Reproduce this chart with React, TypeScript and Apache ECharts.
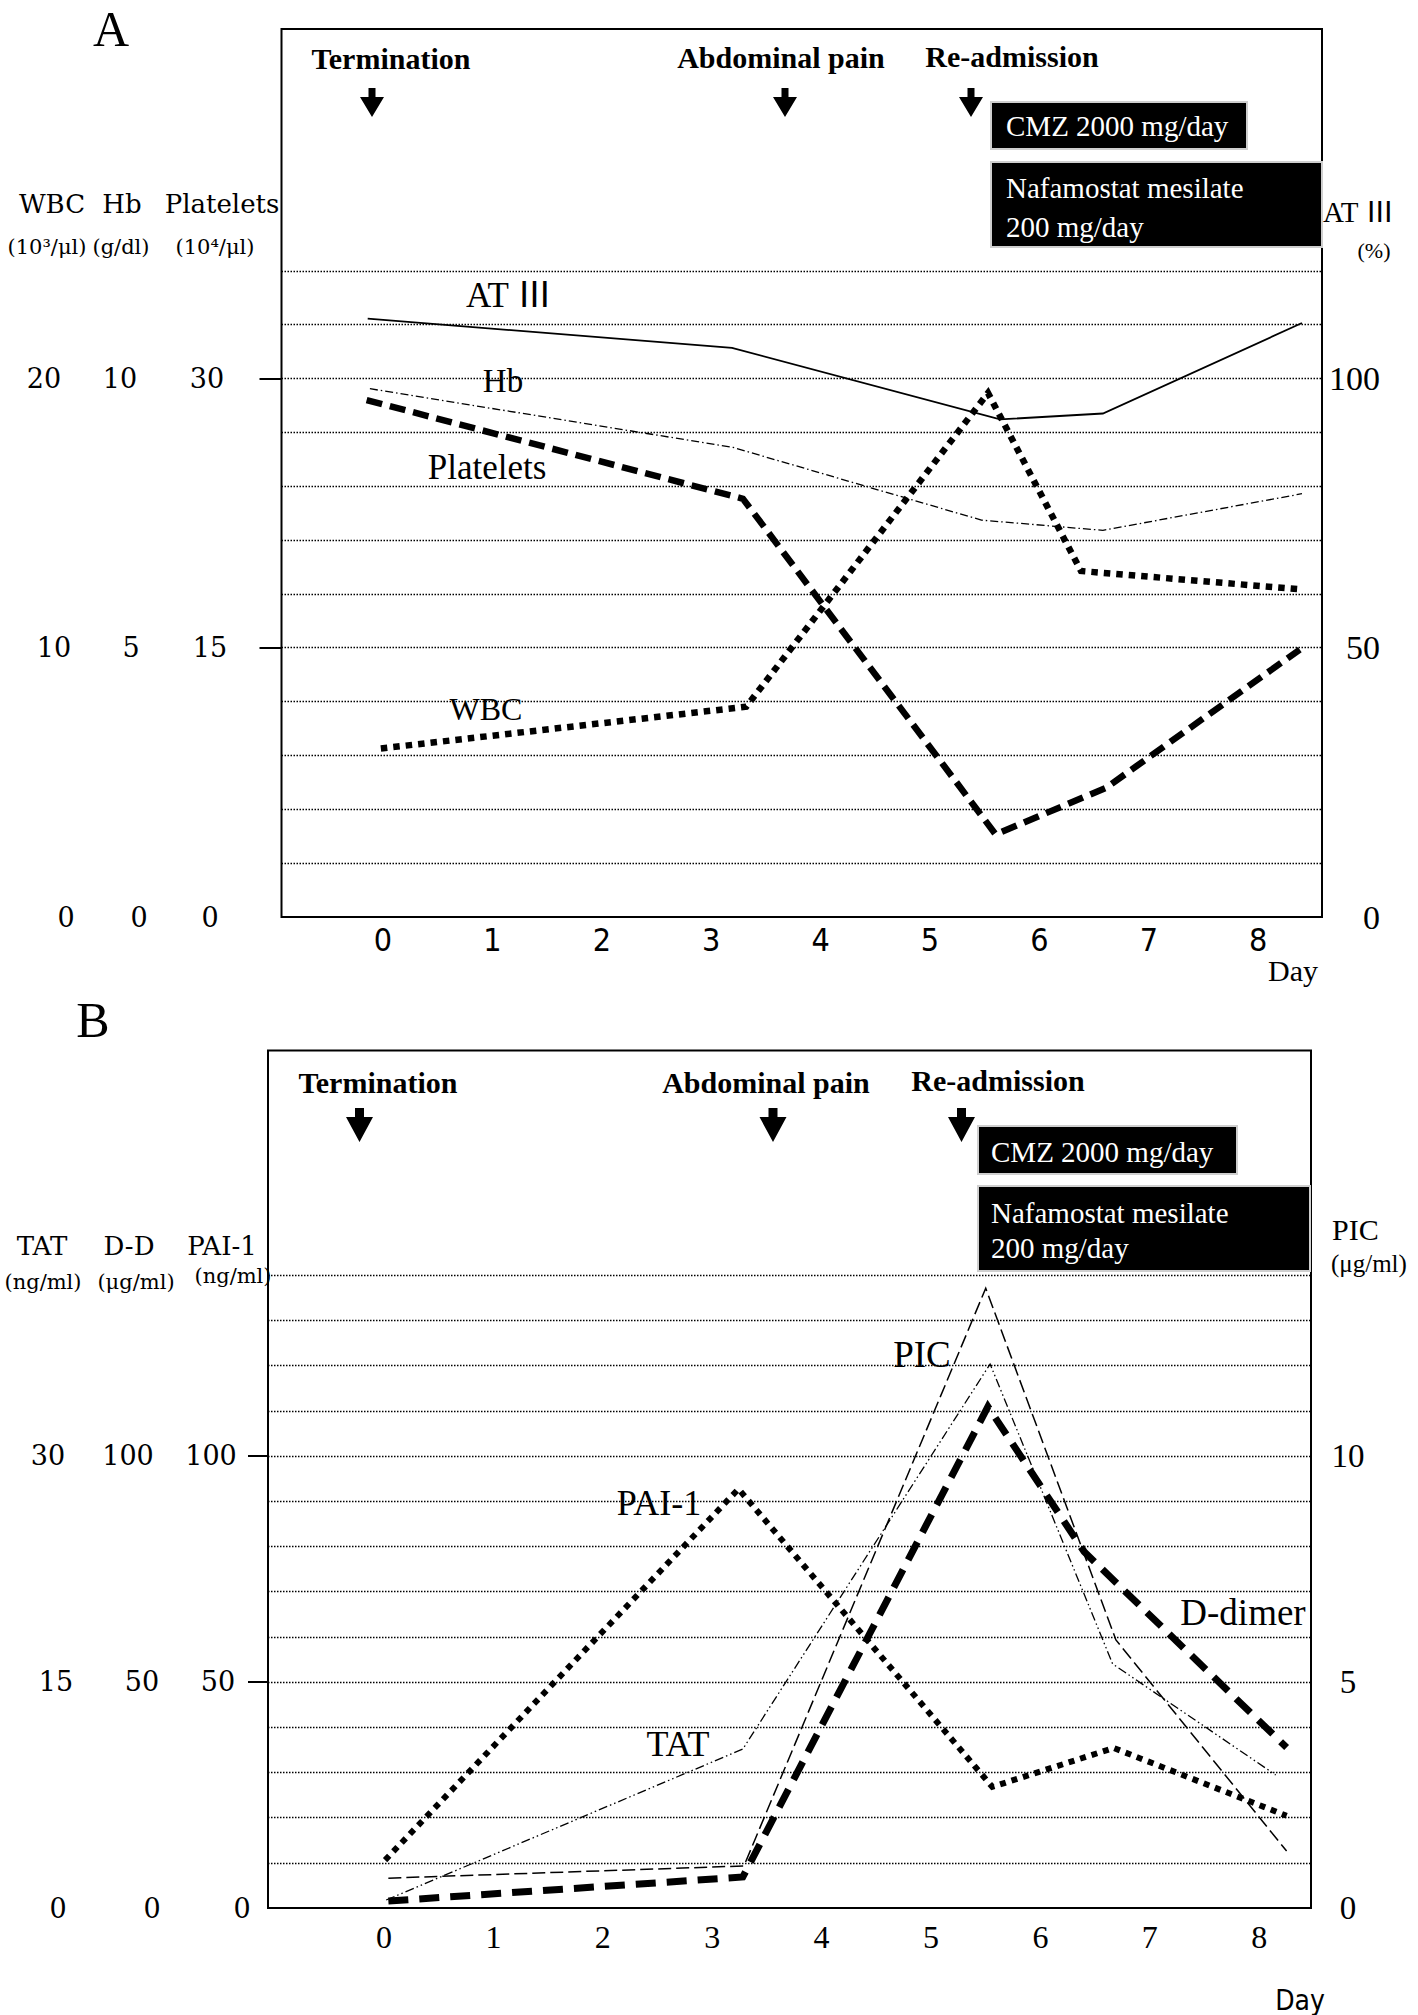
import React, { useEffect, useRef } from "react";
import * as echarts from "echarts";

const W = 1418;
const H = 2015;

// ---------- Panel A data (x = day position as plotted) ----------
const AT3_DAYS = [-0.14, 3.19, 5.64, 6.58, 8.4];
const AT3_VALUES = [111.1, 105.7, 92.4, 93.5, 110.3];
const HB_DAYS = [-0.12, 3.2, 5.47, 6.58, 8.4];
const HB_VALUES = [9.81, 8.72, 7.37, 7.18, 7.86];
const PLT_DAYS = [-0.15, 3.29, 5.6, 6.61, 8.38];
const PLT_VALUES = [28.8, 23.3, 4.6, 7.2, 14.9];
const WBC_DAYS = [-0.02, 3.32, 5.53, 6.38, 8.38];
const WBC_VALUES = [6.26, 7.81, 19.46, 12.85, 12.17];

// ---------- Panel B data ----------
const PAI_DAYS = [0.01, 3.24, 5.56, 6.67, 8.25];
const PAI_VALUES = [10.6, 92.7, 26.8, 35.4, 20.4];
const TAT_DAYS = [0.02, 3.28, 5.54, 6.66, 8.15];
const TAT_VALUES = [0.53, 10.55, 36.1, 16.2, 8.83];
const PIC_DAYS = [0.04, 3.29, 5.5, 6.69, 8.25];
const PIC_VALUES = [0.66, 0.93, 13.71, 5.93, 1.26];
const DD_DAYS = [0.04, 3.28, 5.52, 6.4, 8.25];
const DD_VALUES = [1.55, 6.86, 110.9, 78.8, 35.5];

// ---------- ticks / gridlines ----------
const DAY_TICKS = [0, 1, 2, 3, 4, 5, 6, 7, 8];
const PLT_TICKS = [0, 15, 30];
const WBC_TICKS = [0, 10, 20];
const HB_TICKS = [0, 5, 10];
const AT3_TICKS = [0, 50, 100];
const PAI_TICKS = [0, 50, 100];
const DD_TICKS = [0, 50, 100];
const TAT_TICKS = [0, 15, 30];
const PIC_TICKS = [0, 5, 10];
const GRID_A = [3, 6, 9, 12, 15, 18, 21, 24, 27, 30, 33, 36];
const GRID_B = [10, 20, 30, 40, 50, 60, 70, 80, 90, 100, 110, 120, 130, 140];

// axis ranges
const PLT_MAX = 49.47;
const WBC_MAX = (PLT_MAX * 20) / 30;
const HB_MAX = (PLT_MAX * 10) / 30;
const AT3_MAX = (PLT_MAX * 100) / 30;
const PAI_MAX = 189.7;
const DD_MAX = PAI_MAX;
const TAT_MAX = (PAI_MAX * 30) / 100;
const PIC_MAX = (PAI_MAX * 10) / 100;

const SERIF = "'Liberation Serif', 'Noto Sans CJK JP', serif";
const WIDE_SERIF = "'DejaVu Serif', serif";
const NARROW = "'Liberation Sans Narrow', 'DejaVu Sans Condensed', 'Liberation Sans', sans-serif";

function yAxis(gridIndex: number, max: number, position: string, ticks: number[], margin: number, align: string, family: string, size: number, tickVals?: number[], tickLen?: number, shifts?: Record<number, number>) {
  const label: any = {
    show: true,
    customValues: ticks,
    margin,
    align,
    verticalAlign: "middle",
    fontFamily: family,
    fontSize: size,
    color: "#000",
  };
  if (shifts) {
    const rich: any = {};
    ticks.forEach((t, i) => {
      const d = shifts[t] || 0;
      rich["s" + i] = {
        fontFamily: family,
        fontSize: size,
        color: "#000",
        padding: d < 0 ? [0, -2 * d, 0, 0] : [0, 0, 0, 2 * d],
      };
    });
    label.rich = rich;
    label.formatter = (v: number) => {
      const i = ticks.indexOf(v);
      return i >= 0 ? `{s${i}|${v}}` : String(v);
    };
  }
  return {
    type: "value",
    gridIndex,
    min: 0,
    max,
    position,
    offset: 0,
    axisLine: { show: false, onZero: false },
    splitLine: { show: false },
    axisTick: tickVals
      ? { show: true, customValues: tickVals, length: tickLen, lineStyle: { color: "#000", width: 2 } }
      : { show: false },
    axisLabel: label,
  };
}

function line(xi: number, yi: number, xs: number[], ys: number[], width: number, type: any, extra: any = {}) {
  return {
    type: "line",
    xAxisIndex: xi,
    yAxisIndex: yi,
    data: xs.map((x, i) => [x, ys[i]]),
    symbol: "none",
    showSymbol: false,
    silent: true,
    z: 3,
    lineStyle: { color: "#000", width, type, cap: "butt", join: "miter" },
    ...extra,
  };
}

function gridLines(values: number[]) {
  return {
    silent: true,
    symbol: ["none", "none"],
    label: { show: false },
    emphasis: { disabled: true },
    lineStyle: { color: "#000", width: 1.3, type: [1.5, 1.5] },
    data: values.map((v) => ({ yAxis: v })),
  };
}

function txt(text: string, x: number, y: number, size: number, family: string, opts: any = {}) {
  return {
    type: "text",
    x,
    y,
    z: 100,
    silent: true,
    style: {
      text,
      fill: opts.fill || "#000",
      fontSize: size,
      fontFamily: family,
      fontWeight: opts.bold ? "bold" : "normal",
      align: opts.align || "center",
      verticalAlign: "middle",
    },
  };
}

function arrow(x: number, top: number, stemH: number, stemW: number, headW: number, headH: number) {
  const s = stemW / 2;
  const h = headW / 2;
  const y1 = top + stemH;
  return {
    type: "polygon",
    z: 100,
    silent: true,
    shape: {
      points: [
        [x - s, top],
        [x + s, top],
        [x + s, y1],
        [x + h, y1],
        [x, y1 + headH],
        [x - h, y1],
        [x - s, y1],
      ],
    },
    style: { fill: "#000" },
  };
}

function box(x: number, y: number, w: number, h: number) {
  return {
    type: "rect",
    z: 99,
    silent: true,
    shape: { x, y, width: w, height: h },
    style: { fill: "#000", stroke: "#cfcfcf", lineWidth: 2 },
  };
}

function buildOption() {
  const graphic: any[] = [
    // Panel A
    txt("A", 111, 29, 50, SERIF),
    txt("Termination", 391, 58, 30, SERIF, { bold: true }),
    txt("Abdominal pain", 781, 57, 30, SERIF, { bold: true }),
    txt("Re-admission", 1012, 56, 30, SERIF, { bold: true }),
    arrow(372, 88, 9, 7, 24, 20),
    arrow(785, 88, 9, 7, 24, 20),
    arrow(971, 88, 9, 7, 24, 20),
    box(991, 102, 256, 47),
    txt("CMZ 2000 mg/day", 1006, 126, 29, SERIF, { fill: "#fff", align: "left" }),
    box(991, 162, 331, 85),
    txt("Nafamostat mesilate", 1006, 188, 29, SERIF, { fill: "#fff", align: "left" }),
    txt("200 mg/day", 1006, 227, 29, SERIF, { fill: "#fff", align: "left" }),
    txt("WBC", 52, 204, 26, WIDE_SERIF),
    txt("Hb", 122, 204, 26, WIDE_SERIF),
    txt("Platelets", 222, 204, 26, WIDE_SERIF),
    txt("(10³/μl)", 47, 247, 21, WIDE_SERIF),
    txt("(g/dl)", 121, 247, 21, WIDE_SERIF),
    txt("(10⁴/μl)", 215, 247, 21, WIDE_SERIF),
    txt("AT Ⅲ", 1323, 212, 29, SERIF, { align: "left" }),
    txt("(%)", 1374, 250, 22, SERIF),
    txt("AT Ⅲ", 509, 295, 35, SERIF),
    txt("Hb", 503, 381, 33, SERIF),
    txt("Platelets", 487, 467, 35, SERIF),
    txt("WBC", 486, 709, 32, SERIF),
    txt("Day", 1293, 970, 30, SERIF),
    // Panel B
    txt("B", 93, 1020, 50, SERIF),
    txt("Termination", 378, 1082, 30, SERIF, { bold: true }),
    txt("Abdominal pain", 766, 1082, 30, SERIF, { bold: true }),
    txt("Re-admission", 998, 1080, 30, SERIF, { bold: true }),
    arrow(359.5, 1108, 9, 9, 27, 25),
    arrow(773, 1108, 9, 9, 27, 25),
    arrow(961.5, 1108, 9, 9, 27, 25),
    box(978, 1126, 259, 48),
    txt("CMZ 2000 mg/day", 991, 1152, 29, SERIF, { fill: "#fff", align: "left" }),
    box(978, 1186, 332, 85),
    txt("Nafamostat mesilate", 991, 1213, 29, SERIF, { fill: "#fff", align: "left" }),
    txt("200 mg/day", 991, 1248, 29, SERIF, { fill: "#fff", align: "left" }),
    txt("TAT", 42, 1246, 26, WIDE_SERIF),
    txt("D-D", 129, 1246, 26, WIDE_SERIF),
    txt("PAI-1", 222, 1246, 26, WIDE_SERIF),
    txt("(ng/ml)", 43, 1282, 21, WIDE_SERIF),
    txt("(μg/ml)", 136, 1282, 21, WIDE_SERIF),
    txt("(ng/ml)", 233, 1276, 21, WIDE_SERIF),
    txt("PIC", 1332, 1229, 30, SERIF, { align: "left" }),
    txt("(μg/ml)", 1331, 1263, 25, SERIF, { align: "left" }),
    txt("PIC", 922, 1354, 37, SERIF),
    txt("PAI-1", 659, 1503, 36, SERIF),
    txt("TAT", 678, 1744, 36, SERIF),
    txt("D-dimer", 1243, 1612, 37, SERIF),
    txt("Day", 1300, 2000, 28, NARROW),
  ];

  return {
    animation: false,
    backgroundColor: "#fff",
    grid: [
      { left: 281.5, top: 29, width: 1040.5, height: 888, show: true, borderColor: "#000", borderWidth: 2, backgroundColor: "rgba(0,0,0,0)", outerBoundsMode: "none", containLabel: false },
      { left: 268, top: 1050.5, width: 1043, height: 857.5, show: true, borderColor: "#000", borderWidth: 2, backgroundColor: "rgba(0,0,0,0)", outerBoundsMode: "none", containLabel: false },
    ],
    xAxis: [
      {
        type: "value", gridIndex: 0, min: -0.928, max: 8.583,
        axisLine: { show: false, onZero: false }, axisTick: { show: false }, splitLine: { show: false },
        axisLabel: { customValues: DAY_TICKS, margin: 7, fontFamily: NARROW, fontSize: 32, color: "#000" },
      },
      {
        type: "value", gridIndex: 1, min: -1.06, max: 8.473,
        axisLine: { show: false, onZero: false }, axisTick: { show: false }, splitLine: { show: false },
        axisLabel: { customValues: DAY_TICKS, margin: 13, fontFamily: SERIF, fontSize: 32, color: "#000" },
      },
    ],
    yAxis: [
      yAxis(0, PLT_MAX, "left", PLT_TICKS, 71.5, "center", WIDE_SERIF, 27, [15, 30], 22, { 30: -3, 15: 0, 0: 0 }),
      yAxis(0, WBC_MAX, "left", WBC_TICKS, 227.5, "center", WIDE_SERIF, 27, undefined, undefined, { 20: -10, 10: 0, 0: 12 }),
      yAxis(0, HB_MAX, "left", HB_TICKS, 150.5, "center", WIDE_SERIF, 27, undefined, undefined, { 10: -11, 5: 0, 0: 8 }),
      yAxis(0, AT3_MAX, "right", AT3_TICKS, 58, "right", SERIF, 34),
      yAxis(1, PAI_MAX, "left", PAI_TICKS, 50, "center", WIDE_SERIF, 27, [50, 100], 20, { 100: -7, 50: 0, 0: 24 }),
      yAxis(1, DD_MAX, "left", DD_TICKS, 126, "center", WIDE_SERIF, 27, undefined, undefined, { 100: -14, 50: 0, 0: 10 }),
      yAxis(1, TAT_MAX, "left", TAT_TICKS, 212, "center", WIDE_SERIF, 27, undefined, undefined, { 30: -8, 15: 0, 0: 2 }),
      yAxis(1, PIC_MAX, "right", PIC_TICKS, 37, "center", SERIF, 33),
    ],
    series: [
      line(0, 0, PLT_DAYS, PLT_VALUES, 6.5, [16, 8], { markLine: gridLines(GRID_A) }),
      line(0, 3, AT3_DAYS, AT3_VALUES, 1.8, "solid"),
      line(0, 2, HB_DAYS, HB_VALUES, 1.3, [8, 3, 1.5, 3]),
      line(0, 1, WBC_DAYS, WBC_VALUES, 6.5, [6.5, 6]),
      line(1, 4, PAI_DAYS, PAI_VALUES, 6, [6, 6], { markLine: gridLines(GRID_B) }),
      line(1, 6, TAT_DAYS, TAT_VALUES, 1.3, [9, 3, 1.5, 3, 1.5, 3]),
      line(1, 7, PIC_DAYS, PIC_VALUES, 1.5, [13, 5]),
      line(1, 5, DD_DAYS, DD_VALUES, 7, [20, 11]),
    ],
    graphic,
  };
}

export default function App() {
  const ref = useRef<HTMLDivElement>(null);
  useEffect(() => {
    document.body.style.margin = "0";
    const chart = echarts.init(ref.current as HTMLDivElement, null, { renderer: "svg", width: W, height: H });
    chart.setOption(buildOption() as any);
    return () => chart.dispose();
  }, []);
  return <div ref={ref} style={{ width: W, height: H }} />;
}
